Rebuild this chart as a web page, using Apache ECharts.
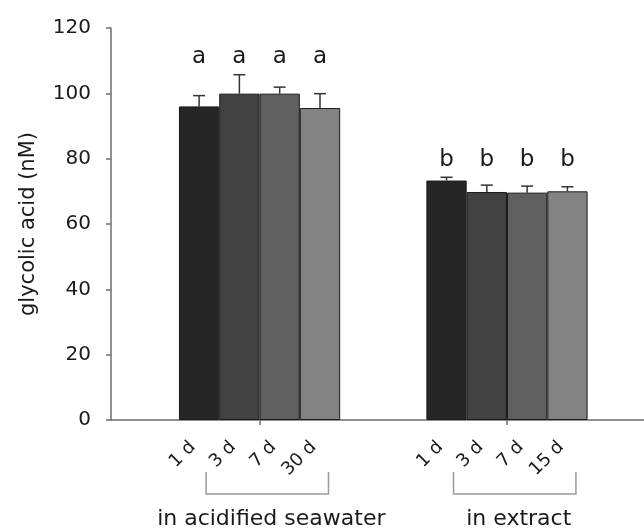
<!DOCTYPE html>
<html>
<head>
<meta charset="utf-8">
<script src="https://cdn.jsdelivr.net/npm/echarts@6/dist/echarts.min.js"></script>
<style>
html,body{margin:0;padding:0;background:#fff;}
#chart{width:644px;height:529px;}
</style>
</head>
<body>
<div id="chart"></div>
<script>
// ---- data ----
const categories = ['1 d', '3 d', '7 d', '30 d', '1 d', '3 d', '7 d', '15 d'];
const groupNames = ['in acidified seawater', 'in extract'];
const groupOf = [0, 0, 0, 0, 1, 1, 1, 1];
const meanValues = [96.0, 99.9, 99.9, 95.5, 73.3, 69.8, 69.6, 70.0];
const errorValues = [3.3, 5.8, 2.0, 4.4, 1.0, 2.1, 2.0, 1.4];
const letters = ['a', 'a', 'a', 'a', 'b', 'b', 'b', 'b'];
const yTicks = [0, 20, 40, 60, 80, 100, 120];
const yAxisTitle = 'glycolic acid (nM)';

// ---- layout helpers (position of each bar on a unit-per-bar value axis) ----
const GROUP_SPACING = 6.14;
const barColors = ['#262626', '#424242', '#5f5f5f', '#838383'];
const xPos = [];
const inGroupIdx = [];
(function () {
  const counters = {};
  groupOf.forEach(function (g, i) {
    counters[g] = counters[g] || 0;
    inGroupIdx[i] = counters[g];
    xPos[i] = counters[g] + g * GROUP_SPACING;
    counters[g]++;
  });
})();
const groupIds = groupNames.map(function (_, g) { return g; });
const groupFirst = groupIds.map(function (g) { return Math.min.apply(null, xPos.filter(function (_, i) { return groupOf[i] === g; })); });
const groupLast = groupIds.map(function (g) { return Math.max.apply(null, xPos.filter(function (_, i) { return groupOf[i] === g; })); });
const groupTop = groupIds.map(function (g) {
  return Math.max.apply(null, meanValues.map(function (v, i) { return groupOf[i] === g ? v + errorValues[i] : -Infinity; }));
});
const groupMid = groupIds.map(function (g) { return (groupFirst[g] + groupLast[g]) / 2; });

function labelFor(v) {
  for (let i = 0; i < xPos.length; i++) if (Math.abs(xPos[i] - v) < 1e-6) return categories[i];
  return '';
}

const FONT = 'DejaVu Sans';
const chart = echarts.init(document.getElementById('chart'), null, { renderer: 'canvas' });

const option = {
  backgroundColor: '#ffffff',
  animation: false,
  textStyle: { fontFamily: FONT },
  grid: { left: 111, right: 0, top: 28, bottom: 109, containLabel: false },
  xAxis: {
    type: 'value',
    min: -2.186,
    max: 11.04,
    axisLine: { show: true, onZero: false, lineStyle: { color: '#6e6e6e', width: 1.5 } },
    axisTick: { show: true, length: 5, inside: false, customValues: groupMid, lineStyle: { color: '#6e6e6e', width: 1.5 } },
    axisLabel: {
      show: true,
      customValues: xPos,
      rotate: 45,
      margin: 18,
      padding: [0, 9, 0, 0],
      fontSize: 18,
      fontFamily: FONT,
      color: '#1a1a1a',
      formatter: function (v) { return labelFor(v); }
    },
    splitLine: { show: false }
  },
  yAxis: {
    type: 'value',
    min: yTicks[0],
    max: yTicks[yTicks.length - 1],
    interval: yTicks[1] - yTicks[0],
    name: yAxisTitle,
    nameLocation: 'middle',
    nameGap: 72,
    nameTextStyle: { fontSize: 21, fontFamily: FONT, color: '#1a1a1a' },
    axisLine: { show: true, onZero: false, lineStyle: { color: '#6e6e6e', width: 1.5 } },
    axisTick: { show: true, length: 5, inside: false, lineStyle: { color: '#6e6e6e', width: 1.5 } },
    axisLabel: { fontSize: 20, fontFamily: FONT, color: '#1a1a1a', margin: 20 },
    splitLine: { show: false }
  },
  series: [
    {
      type: 'bar',
      barWidth: 40.3,
      data: meanValues.map(function (v, i) {
        return {
          value: [xPos[i], v],
          itemStyle: { color: barColors[inGroupIdx[i] % barColors.length], borderColor: '#1a1a1a', borderWidth: 1 }
        };
      }),
      z: 2
    },
    {
      type: 'custom',
      z: 3,
      data: meanValues.map(function (v, i) { return [xPos[i], v, errorValues[i]]; }),
      renderItem: function (params, api) {
        const x = api.value(0), y = api.value(1), e = api.value(2);
        const p0 = api.coord([x, y]);
        const p1 = api.coord([x, y + e]);
        const cap = 6;
        return {
          type: 'group',
          children: [
            { type: 'line', shape: { x1: p0[0], y1: p0[1], x2: p1[0], y2: p1[1] }, style: { stroke: '#333333', lineWidth: 1.5 } },
            { type: 'line', shape: { x1: p1[0] - cap, y1: p1[1], x2: p1[0] + cap, y2: p1[1] }, style: { stroke: '#333333', lineWidth: 1.5 } }
          ]
        };
      }
    },
    {
      type: 'custom',
      z: 4,
      data: letters.map(function (t, i) { return [xPos[i], groupTop[groupOf[i]], i]; }),
      renderItem: function (params, api) {
        const p = api.coord([api.value(0), api.value(1)]);
        const i = api.value(2);
        return {
          type: 'text',
          style: {
            text: letters[i],
            x: p[0],
            y: p[1] - 6,
            fill: '#1a1a1a',
            fontSize: 23,
            fontFamily: FONT,
            align: 'center',
            verticalAlign: 'bottom'
          }
        };
      }
    },
    {
      type: 'custom',
      z: 4,
      clip: false,
      data: groupIds.map(function (g) { return [groupFirst[g], groupLast[g], g]; }),
      renderItem: function (params, api) {
        const g = api.value(2);
        const a = api.coord([api.value(0), 0]);
        const b = api.coord([api.value(1), 0]);
        const x1 = a[0] + 7, x2 = b[0] + 8.5;
        const yTop = a[1] + 52, yBot = a[1] + 74;
        return {
          type: 'group',
          children: [
            { type: 'polyline', shape: { points: [[x1, yTop], [x1, yBot], [x2, yBot], [x2, yTop]] }, style: { stroke: '#9a9a9a', lineWidth: 1.5, fill: null } },
            {
              type: 'text',
              style: {
                text: groupNames[g],
                x: (x1 + x2) / 2 + 4,
                y: a[1] + 99,
                fill: '#1a1a1a',
                fontSize: 22,
                fontFamily: FONT,
                align: 'center',
                verticalAlign: 'middle'
              }
            }
          ]
        };
      }
    }
  ]
};
chart.setOption(option);
</script>
</body>
</html>
